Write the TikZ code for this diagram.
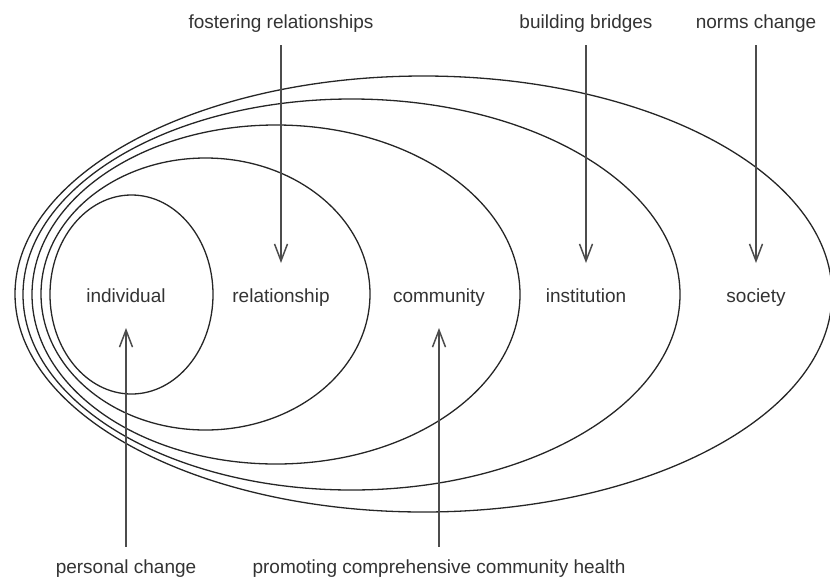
\documentclass[tikz,border=0pt]{standalone}
\usepackage{fontspec}
\setmainfont{Liberation Sans}
\usetikzlibrary{arrows.meta}

\begin{document}
\begin{tikzpicture}[
  x=0.5pt, y=-0.5pt,
  every node/.style={inner sep=0pt, anchor=base, text=black!80, font=\fontsize{9.5}{11}\selectfont},
  ring/.style={draw=black!85, line width=0.65pt},
  arrow/.style={draw=black!70, line width=0.75pt, -{Straight Barb[length=8.5pt, width=6.5pt]}}
]
\useasboundingbox (0,0) rectangle (830,579);

% nested levels, outermost first
\draw[ring] (423.5,294) ellipse [x radius=408.5, y radius=218];
\draw[ring] (351.5,294.5) ellipse [x radius=328.5, y radius=195.5];
\draw[ring] (276,294.5) ellipse [x radius=244, y radius=169.5];
\draw[ring] (205.5,294) ellipse [x radius=164.5, y radius=136];
\draw[ring] (131.5,294.5) ellipse [x radius=81.5, y radius=99.5];

% level names
\node (indiv) at (126,302) {individual};
\node (relat) at (281,302) {relationship};
\node (commu) at (439,302) {community};
\node (insti) at (586,302) {institution};
\node (socie) at (756,302) {society};

% strategies
\node (fost) at (281,28) {fostering relationships};
\node (brid) at (586,28) {building bridges};
\node (norm) at (756,28) {norms change};
\node (pers) at (126,573) {personal change};
\node (prom) at (439,573) {promoting comprehensive community health};

\coordinate (fost-end) at (281,263);
\coordinate (brid-end) at (586,263);
\coordinate (norm-end) at (756,263);
\coordinate (pers-end) at (126,328);
\coordinate (prom-end) at (439,328);

\draw[arrow, shorten <=6.5pt] (fost) -- (fost-end);
\draw[arrow, shorten <=6.5pt] (brid) -- (brid-end);
\draw[arrow, shorten <=6.5pt] (norm) -- (norm-end);
\draw[arrow, shorten <=6pt] (pers) -- (pers-end);
\draw[arrow, shorten <=6pt] (prom) -- (prom-end);
\end{tikzpicture}
\end{document}
